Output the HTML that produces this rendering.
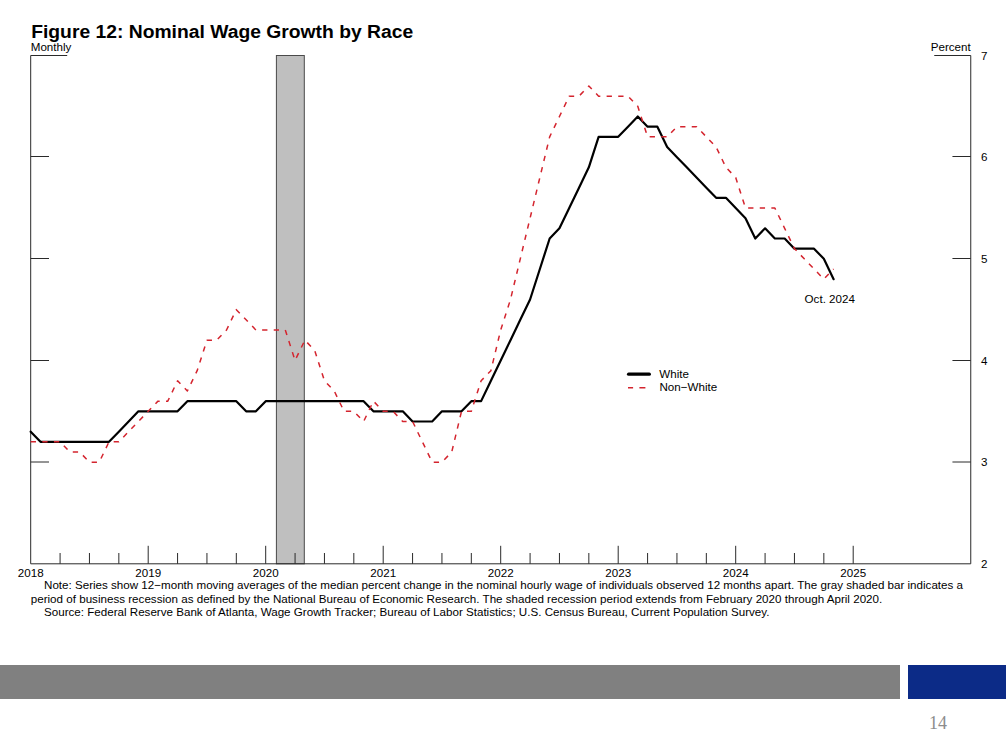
<!DOCTYPE html>
<html>
<head>
<meta charset="utf-8">
<title>Figure 12: Nominal Wage Growth by Race</title>
<style>
html,body{margin:0;padding:0;background:#fff;}
body{width:1006px;height:755px;position:relative;overflow:hidden;font-family:"Liberation Sans",sans-serif;}
svg{position:absolute;left:0;top:0;}
svg text{font-family:"Liberation Sans",sans-serif;fill:#000;}
.gbar{position:absolute;left:0;top:665px;width:900px;height:34px;background:#808080;}
.bbar{position:absolute;left:908px;top:665px;width:98px;height:34px;background:#0c2b87;}
.pg{position:absolute;left:929px;top:711px;font-family:"Liberation Serif",serif;font-size:18px;line-height:24px;color:#8c8c8c;}
</style>
</head>
<body>
<svg width="1006" height="755" viewBox="0 0 1006 755">
<rect x="276.4" y="55.5" width="27.9" height="508.3" fill="#bfbfbf" stroke="#4a4a4a" stroke-width="1"/>
<path d="M30.7,55.5 V563.8 H970.75 V55.5" fill="none" stroke="#2a2a2a" stroke-width="1"/>
<path d="M30.7,55.5 H67.2 M970.75,55.5 H934.25" fill="none" stroke="#2a2a2a" stroke-width="1"/>
<path d="M30.7,462.00 h18.3 M970.75,462.00 h-18.3 M30.7,360.50 h18.3 M970.75,360.50 h-18.3 M30.7,258.50 h18.3 M970.75,258.50 h-18.3 M30.7,156.50 h18.3 M970.75,156.50 h-18.3 " fill="none" stroke="#2a2a2a" stroke-width="1"/>
<path d="M60.08,563.8 v-10.8 M89.45,563.8 v-10.8 M118.83,563.8 v-10.8 M148.20,563.8 v-18 M177.57,563.8 v-10.8 M206.95,563.8 v-10.8 M236.32,563.8 v-10.8 M265.70,563.8 v-18 M295.07,563.8 v-10.8 M324.45,563.8 v-10.8 M353.82,563.8 v-10.8 M383.20,563.8 v-18 M412.57,563.8 v-10.8 M441.95,563.8 v-10.8 M471.32,563.8 v-10.8 M500.70,563.8 v-18 M530.08,563.8 v-10.8 M559.45,563.8 v-10.8 M588.83,563.8 v-10.8 M618.20,563.8 v-18 M647.58,563.8 v-10.8 M676.95,563.8 v-10.8 M706.33,563.8 v-10.8 M735.70,563.8 v-18 M765.08,563.8 v-10.8 M794.45,563.8 v-10.8 M823.83,563.8 v-10.8 M853.20,563.8 v-18 " fill="none" stroke="#2a2a2a" stroke-width="1"/>
<path d="M30.70,431.64 L40.49,441.81 L50.28,441.81 L60.08,441.81 L69.87,441.81 L79.66,441.81 L89.45,441.81 L99.24,441.81 L109.03,441.81 L118.83,431.64 L128.62,421.48 L138.41,411.31 L148.20,411.31 L157.99,411.31 L167.78,411.31 L177.57,411.31 L187.37,401.14 L197.16,401.14 L206.95,401.14 L216.74,401.14 L226.53,401.14 L236.32,401.14 L246.12,411.31 L255.91,411.31 L265.70,401.14 L275.49,401.14 L285.28,401.14 L295.07,401.14 L304.87,401.14 L314.66,401.14 L324.45,401.14 L334.24,401.14 L344.03,401.14 L353.82,401.14 L363.62,401.14 L373.41,411.31 L383.20,411.31 L392.99,411.31 L402.78,411.31 L412.57,421.48 L422.37,421.48 L432.16,421.48 L441.95,411.31 L451.74,411.31 L461.53,411.31 L471.32,401.14 L481.12,401.14 L490.91,380.81 L500.70,360.48 L510.49,340.15 L520.28,319.82 L530.07,299.48 L539.87,268.99 L549.66,238.49 L559.45,228.32 L569.24,207.99 L579.03,187.66 L588.83,167.33 L598.62,136.83 L608.41,136.83 L618.20,136.83 L627.99,126.66 L637.78,116.50 L647.58,126.66 L657.37,126.66 L667.16,146.99 L676.95,157.16 L686.74,167.33 L696.53,177.49 L706.33,187.66 L716.12,197.82 L725.91,197.82 L735.70,207.99 L745.49,218.16 L755.28,238.49 L765.08,228.32 L774.87,238.49 L784.66,238.49 L794.45,248.65 L804.24,248.65 L814.03,248.65 L823.83,258.82 L833.62,279.15" fill="none" stroke="#000" stroke-width="2.2" stroke-linejoin="round" stroke-linecap="round"/>
<path d="M30.70,441.81 L40.49,441.81 L50.28,441.81 L60.08,441.81 L69.87,451.97 L79.66,451.97 L89.45,462.14 L99.24,462.14 L109.03,441.81 L118.83,441.81 L128.62,431.64 L138.41,421.48 L148.20,411.31 L157.99,401.14 L167.78,401.14 L177.57,380.81 L187.37,390.98 L197.16,370.65 L206.95,340.15 L216.74,340.15 L226.53,329.98 L236.32,309.65 L246.12,319.82 L255.91,329.98 L265.70,329.98 L275.49,329.98 L285.28,329.98 L295.07,360.48 L304.87,340.15 L314.66,350.31 L324.45,380.81 L334.24,390.98 L344.03,411.31 L353.82,411.31 L363.62,421.48 L373.41,401.14 L383.20,411.31 L392.99,411.31 L402.78,421.48 L412.57,421.48 L422.37,441.81 L432.16,462.14 L441.95,462.14 L451.74,451.97 L461.53,411.31 L471.32,411.31 L481.12,380.81 L490.91,370.65 L500.70,329.98 L510.49,299.48 L520.28,258.82 L530.07,218.16 L539.87,177.49 L549.66,136.83 L559.45,116.50 L569.24,96.16 L579.03,96.16 L588.83,86.00 L598.62,96.16 L608.41,96.16 L618.20,96.16 L627.99,96.16 L637.78,106.33 L647.58,136.83 L657.37,136.83 L667.16,136.83 L676.95,126.66 L686.74,126.66 L696.53,126.66 L706.33,136.83 L716.12,146.99 L725.91,167.33 L735.70,177.49 L745.49,207.99 L755.28,207.99 L765.08,207.99 L774.87,207.99 L784.66,228.32 L794.45,248.65 L804.24,258.82 L814.03,268.99 L823.83,279.15 L833.62,268.99" fill="none" stroke="#d4242e" stroke-width="1.5" stroke-dasharray="5.3 6.3" stroke-linejoin="round"/>
<path d="M628.6,374.15 H649.3" stroke="#000" stroke-width="3.3" stroke-linecap="round"/>
<path d="M628,387.7 h5.1 m6.3,0 h6" stroke="#d4242e" stroke-width="1.5"/>
<text x="31.2" y="37.6" font-size="18.9" text-anchor="start" font-weight="bold" textLength="382" lengthAdjust="spacingAndGlyphs">Figure 12: Nominal Wage Growth by Race</text>
<text x="30.75" y="51" font-size="11.6" text-anchor="start" >Monthly</text>
<text x="970.75" y="51" font-size="11.6" text-anchor="end" >Percent</text>
<text x="981" y="567.9" font-size="11.6" text-anchor="start" >2</text>
<text x="981" y="466.24" font-size="11.6" text-anchor="start" >3</text>
<text x="981" y="364.58" font-size="11.6" text-anchor="start" >4</text>
<text x="981" y="262.91999999999996" font-size="11.6" text-anchor="start" >5</text>
<text x="981" y="161.25999999999996" font-size="11.6" text-anchor="start" >6</text>
<text x="981" y="59.6" font-size="11.6" text-anchor="start" >7</text>
<text x="30.7" y="576.6" font-size="11.6" text-anchor="middle" >2018</text>
<text x="148.2" y="576.6" font-size="11.6" text-anchor="middle" >2019</text>
<text x="265.7" y="576.6" font-size="11.6" text-anchor="middle" >2020</text>
<text x="383.2" y="576.6" font-size="11.6" text-anchor="middle" >2021</text>
<text x="500.7" y="576.6" font-size="11.6" text-anchor="middle" >2022</text>
<text x="618.2" y="576.6" font-size="11.6" text-anchor="middle" >2023</text>
<text x="735.7" y="576.6" font-size="11.6" text-anchor="middle" >2024</text>
<text x="853.2" y="576.6" font-size="11.6" text-anchor="middle" >2025</text>
<text x="804.6" y="303.4" font-size="11.6" text-anchor="start" >Oct. 2024</text>
<text x="659.3" y="377.5" font-size="11.6" text-anchor="start" >White</text>
<text x="659.5" y="391.3" font-size="11.6" text-anchor="start" >Non−White</text>
<text x="44" y="589.1" font-size="11.6" text-anchor="start" textLength="919" lengthAdjust="spacingAndGlyphs">Note: Series show 12−month moving averages of the median percent change in the nominal hourly wage of individuals observed 12 months apart. The gray shaded bar indicates a</text>
<text x="30.75" y="602.6" font-size="11.6" text-anchor="start" textLength="851.5" lengthAdjust="spacingAndGlyphs">period of business recession as defined by the National Bureau of Economic Research. The shaded recession period extends from February 2020 through April 2020.</text>
<text x="44" y="616.1" font-size="11.6" text-anchor="start" textLength="725.5" lengthAdjust="spacingAndGlyphs">Source: Federal Reserve Bank of Atlanta, Wage Growth Tracker; Bureau of Labor Statistics; U.S. Census Bureau, Current Population Survey.</text>
</svg>
<div class="gbar"></div>
<div class="bbar"></div>
<div class="pg">14</div>
</body>
</html>
